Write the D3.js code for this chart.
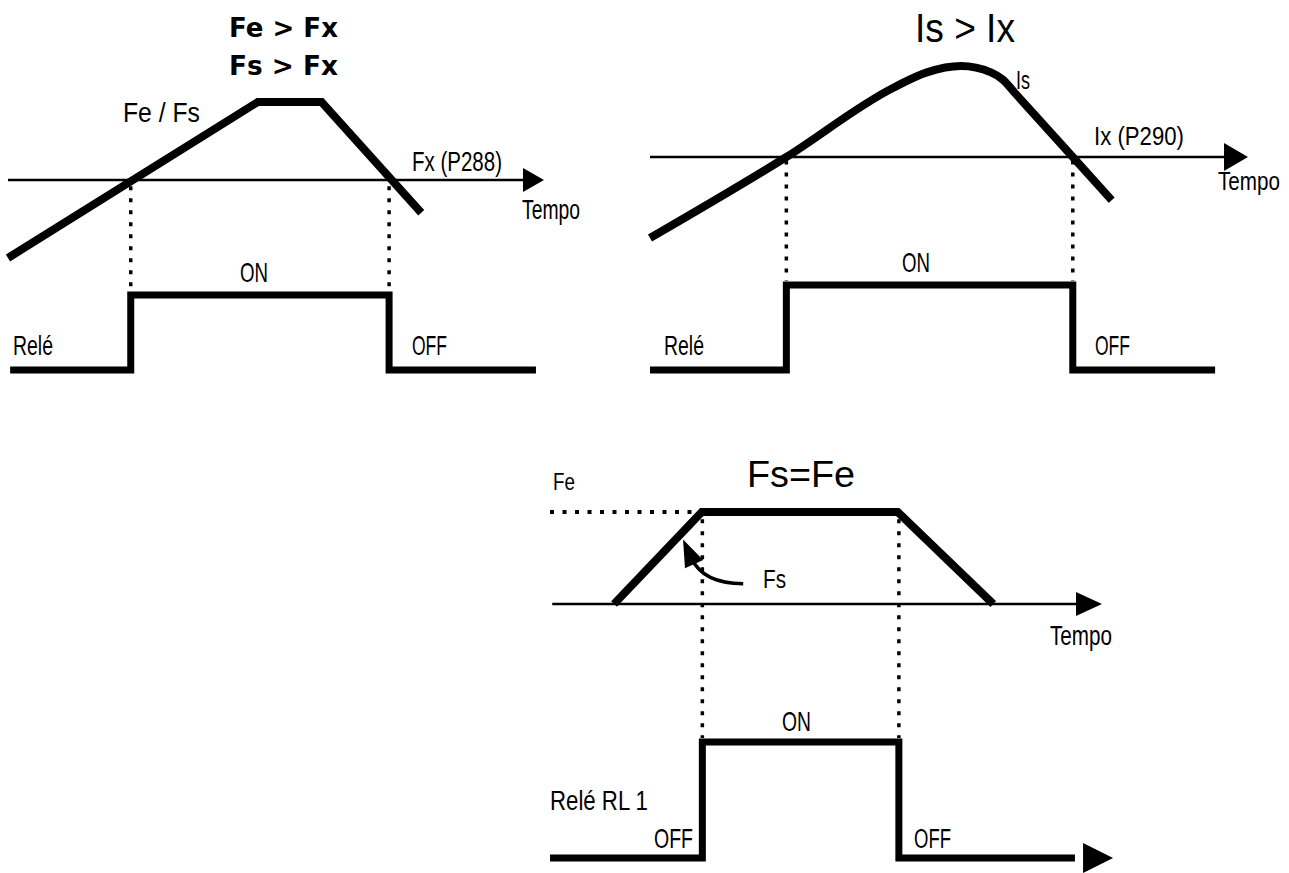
<!DOCTYPE html>
<html>
<head>
<meta charset="utf-8">
<script src="https://cdn.jsdelivr.net/npm/d3@7"></script>
<style>
  body { margin: 0; background: #fff; }
  text { font-family: "Liberation Sans", Arial, sans-serif; fill: #000; }
</style>
</head>
<body>
<svg id="svg1"></svg>
<script>
const width = 1289;
const height = 873;

// time runs 0..10 in every panel, levels: 0 = threshold / axis, 1 = top
const timeDomain = [0, 10];

// panel 1: Fe / Fs against Fx (P288)
const fxSignal = [{t: 0, v: -1}, {t: 4.66, v: 1}, {t: 5.85, v: 1}, {t: 7.71, v: -0.42}];
const fxSwitch = [2.29, 7.11];
const fxRelayRange = [0.04, 9.85];

// panel 2: Is against Ix (P290)
const ixSignal = [{t: 0, v: -0.9}, {t: 2.28, v: 0}, {t: 4.07, v: 0.77}, {t: 4.63, v: 0.94},
                  {t: 5.2, v: 1.01}, {t: 5.7, v: 0.94}, {t: 5.9, v: 0.86}, {t: 6.1, v: 0.713},
                  {t: 7.07, v: 0}, {t: 7.72, v: -0.48}];
const ixSwitch = [2.28, 7.07];
const ixRelayRange = [0, 9.45];

// panel 3: Fs = Fe
const feSignal = [{t: 1.16, v: 0}, {t: 2.75, v: 1}, {t: 6.30, v: 1}, {t: 8.03, v: 0}];
const feSwitch = [2.76, 6.32];
const feRelayRange = [0, 9.51];
const fsPointer = [{t: 3.50, v: 0.22}, {t: 2.77, v: 0.22}, {t: 2.41, v: 0.70}];

const svg = d3.select("#svg1")
              .attr("width", width)
              .attr("height", height);

const line = d3.line().x(d => d[0]).y(d => d[1]);

function relayPoints(range, sw) {
  return [{t: range[0], s: 0}, {t: sw[0], s: 0}, {t: sw[0], s: 1},
          {t: sw[1], s: 1}, {t: sw[1], s: 0}, {t: range[1], s: 0}];
}

function arrowHead(g, tip, dir, len, half) {
  const n = [-dir[1], dir[0]];
  const b = [tip[0] - dir[0] * len, tip[1] - dir[1] * len];
  g.append("path")
   .attr("d", "M" + tip + "L" + [b[0] + n[0] * half, b[1] + n[1] * half] +
              "L" + [b[0] - n[0] * half, b[1] - n[1] * half] + "Z")
   .style("fill", "black");
}

// condensed lettering: squeeze the text horizontally to the width seen in the picture
function label(x, y, txt, size, w, weight, family) {
  const g = svg.append("g");
  const t = g.append("text")
     .attr("x", 0)
     .attr("y", 0)
     .style("font-size", size + "px")
     .text(txt);
  if (weight) t.style("font-weight", weight);
  if (family) t.style("font-family", family);
  const sx = w ? w / t.node().getComputedTextLength() : 1;
  g.attr("transform", "translate(" + x + "," + y + ") scale(" + sx + ",1)");
  return t;
}

function drawPanel(p) {
  const g = svg.append("g");
  const x = d3.scaleLinear().domain(timeDomain).range(p.xRange);
  const y = d3.scaleLinear().domain([0, 1]).range(p.yRange);
  const r = d3.scaleLinear().domain([0, 1]).range(p.relayRange);

  // time axis with arrow
  const axisEnd = x(timeDomain[1]) - p.arrowLen;
  g.append("path")
   .attr("d", line([[x(p.axisStart), y(0)], [axisEnd, y(0)]]))
   .style("stroke", "black").style("stroke-width", 2.5).style("fill", "none");
  arrowHead(g, [x(timeDomain[1]), y(0)], [1, 0], p.arrowLen, p.arrowHalf);

  // dotted guides
  p.switches.forEach(s => {
    g.append("path")
     .attr("d", line([[x(s), y(p.dotTop)], [x(s), r(1) - 4]]))
     .style("stroke", "black").style("stroke-width", 3.5)
     .style("stroke-dasharray", "4,8").style("fill", "none");
  });

  // signal
  g.append("path")
   .datum(p.signal)
   .attr("d", d3.line().x(d => x(d.t)).y(d => y(d.v)).curve(p.curve || d3.curveLinear))
   .style("stroke", "black").style("stroke-width", 8)
   .style("stroke-linejoin", "miter").style("fill", "none");

  // relay state
  const relay = relayPoints(p.relayT, p.switches);
  g.append("path")
   .datum(relay)
   .attr("d", d3.line().x(d => x(d.t)).y(d => r(d.s)))
   .style("stroke", "black").style("stroke-width", 7)
   .style("stroke-linejoin", "miter").style("fill", "none");

  return {g, x, y, r};
}

// ---- panel 1
drawPanel({xRange: [8, 544], yRange: [180, 102], relayRange: [370, 295],
           axisStart: 0, arrowLen: 21, arrowHalf: 12, switches: fxSwitch, dotTop: -0.08,
           signal: fxSignal, relayT: fxRelayRange});

label(229, 37, "Fe > Fx", 26, 109, "bold", "DejaVu Sans");
label(229, 75, "Fs > Fx", 26, 109, "bold", "DejaVu Sans");
label(123, 122, "Fe / Fs", 27, 77);
label(412, 171, "Fx (P288)", 27, 90);
label(522, 219, "Tempo", 27, 58);
label(240, 282, "ON", 27, 28);
label(13, 355, "Relé", 27, 40);
label(412, 355, "OFF", 27, 35);

// ---- panel 2
drawPanel({xRange: [650, 1248], yRange: [157, 67], relayRange: [370, 285],
           axisStart: 0, arrowLen: 24, arrowHalf: 14, switches: ixSwitch, dotTop: -0.04,
           signal: ixSignal, relayT: ixRelayRange, curve: d3.curveMonotoneX});

label(915, 42, "Is > Ix", 40, 100);
label(1016, 89, "Is", 25, 14);
label(1094, 145, "Ix (P290)", 26, 90);
label(1218, 190, "Tempo", 26, 62);
label(902, 272, "ON", 27, 28);
label(664, 355, "Relé", 27, 40);
label(1095, 355, "OFF", 27, 35);

// ---- panel 3
const p3 = drawPanel({xRange: [550, 1102], yRange: [604, 512], relayRange: [858, 742],
           axisStart: 0.04, arrowLen: 26, arrowHalf: 12, switches: feSwitch, dotTop: 0.92,
           signal: feSignal, relayT: feRelayRange});

// Fe reference level (dotted)
p3.g.append("path")
  .attr("d", line([[p3.x(0), p3.y(1)], [p3.x(feSignal[1].t) - 5, p3.y(1)]]))
  .style("stroke", "black").style("stroke-width", 4)
  .style("stroke-dasharray", "4,8.5").style("fill", "none");

// relay arrow
arrowHead(p3.g, [p3.x(10.2), p3.r(0)], [1, 0], 30, 15);

// curved Fs pointer
const fp = fsPointer.map(d => [p3.x(d.t), p3.y(d.v)]);
const dx = fp[2][0] - fp[1][0], dy = fp[2][1] - fp[1][1];
const dl = Math.sqrt(dx * dx + dy * dy);
const dir = [dx / dl, dy / dl];
const headBase = [fp[2][0] - dir[0] * 20, fp[2][1] - dir[1] * 20];
p3.g.append("path")
  .attr("d", "M" + fp[0] + "Q" + fp[1] + " " + headBase)
  .style("stroke", "black").style("stroke-width", 3.5).style("fill", "none");
arrowHead(p3.g, fp[2], dir, 27, 10);

label(747, 487, "Fs=Fe", 37, 108);
label(553, 490, "Fe", 24, 22);
label(763, 588, "Fs", 25, 23);
label(1050, 645, "Tempo", 27, 62);
label(782, 731, "ON", 27, 29);
label(550, 810, "Relé RL 1", 27, 98);
label(654, 848, "OFF", 27, 39);
label(914, 848, "OFF", 27, 37);
</script>
</body>
</html>
